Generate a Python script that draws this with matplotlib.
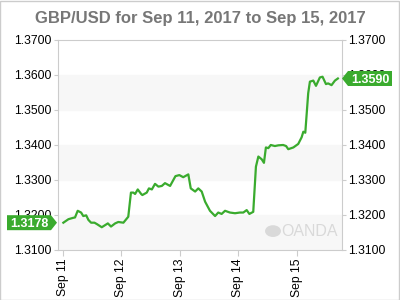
import matplotlib
matplotlib.use("Agg")
import matplotlib.pyplot as plt
from matplotlib.patches import Rectangle, Polygon, Circle
from matplotlib.transforms import IdentityTransform

plt.rcParams['font.family'] = ['Liberation Sans', 'DejaVu Sans']

# hours since Sep 11 2017 00:00 and GBP/USD price
hours = [0.1, 2.2, 4.2, 4.9, 6.0, 7.4, 8.3, 9.5, 10.4, 11.5, 12.9, 13.9, 15.9,
         18.4, 19.7, 21.4, 22.7, 24.8, 26.8, 27.9, 28.9, 29.6, 30.7, 32.1, 32.6,
         34.4, 35.3, 36.5, 37.8, 39.2, 40.6, 41.9, 44.0, 46.2, 47.8, 49.4, 51.5,
         52.5, 54.3, 55.6, 57.0, 58.4, 60.4, 62.5, 63.8, 65.2, 66.6, 68.6, 70.7,
         72.7, 74.1, 75.5, 76.6, 78.2, 79.3, 80.3, 81.7, 82.6, 83.4, 84.4, 85.4,
         87.1, 88.5, 90.5, 91.7, 92.6, 94.7, 96.7, 98.1, 98.8, 99.6, 100.8,
         101.5, 102.9, 104.0, 105.6, 106.7, 108.1, 109.0, 110.4, 111.8, 113.0]
prices = [1.3178, 1.3188, 1.3192, 1.3193, 1.3212, 1.3207, 1.3197, 1.3199,
          1.3186, 1.3178, 1.3178, 1.3174, 1.3165, 1.3176, 1.3167, 1.3176,
          1.3180, 1.3178, 1.3195, 1.3264, 1.3264, 1.3260, 1.3273, 1.3260,
          1.3257, 1.3264, 1.3276, 1.3273, 1.3289, 1.3281, 1.3283, 1.3291,
          1.3283, 1.3311, 1.3314, 1.3308, 1.3316, 1.3276, 1.3267, 1.3276,
          1.3267, 1.3238, 1.3212, 1.3197, 1.3207, 1.3203, 1.3212, 1.3207,
          1.3205, 1.3207, 1.3207, 1.3214, 1.3203, 1.3209, 1.3338, 1.3367,
          1.3359, 1.3349, 1.3393, 1.3391, 1.3400, 1.3397, 1.3399, 1.3400,
          1.3397, 1.3388, 1.3393, 1.3403, 1.3422, 1.3438, 1.3435, 1.3548,
          1.3581, 1.3584, 1.3569, 1.3593, 1.3595, 1.3574, 1.3576, 1.3571,
          1.3584, 1.3590]
day_labels = ['Sep 11', 'Sep 12', 'Sep 13', 'Sep 14', 'Sep 15']
y_ticks = [1.31, 1.32, 1.33, 1.34, 1.35, 1.36, 1.37]
open_price = 1.3178
last_price = 1.3590

green = '#3aab2e'
grid_gray = '#cccccc'

fig = plt.figure(figsize=(4, 3), dpi=100)
ax = fig.add_axes([0.145, 0.1667, 0.71, 0.70])

# alternating bands
for i in range(0, len(y_ticks) - 1, 2):
    ax.axhspan(y_ticks[i], y_ticks[i + 1], color='#f7f7f7', zorder=0)

ax.plot(hours, prices, color=green, lw=1.6, zorder=3)

ax.set_xlim(-2.1, 114.7)
ax.set_ylim(1.31, 1.37)
ax.set_yticks(y_ticks)
ax.set_yticklabels([f'{v:.4f}' for v in y_ticks])
ax.set_xticks([24 * i for i in range(len(day_labels))])
ax.set_xticklabels(day_labels, rotation=90)

ax.tick_params(axis='y', left=True, right=True, labelleft=True, labelright=True,
               length=3, color=grid_gray, labelsize=8.7, pad=1.5)
ax.tick_params(axis='x', length=4, color=grid_gray, labelsize=8.7, pad=2)
for s in ax.spines.values():
    s.set_color(grid_gray)

fig.suptitle('GBP/USD for Sep 11, 2017 to Sep 15, 2017', y=0.963,
             fontsize=12, fontweight='bold', color='#777777')


# price flags (drawn in pixel space, anchored on the data value)
def flag(price, side):
    x0 = ax.transAxes.transform((0 if side == 'left' else 1, 0))[0]
    y0 = ax.transData.transform((0, price))[1]
    h, w, tip = 7.5, 44, 6
    if side == 'right':
        pts = [(x0, y0), (x0 + tip, y0 + h), (x0 + tip + w, y0 + h),
               (x0 + tip + w, y0 - h), (x0 + tip, y0 - h)]
        tx = x0 + tip + w / 2
    else:
        pts = [(x0 - 1, y0), (x0 - 1 - tip, y0 + h), (x0 - 1 - tip - w, y0 + h),
               (x0 - 1 - tip - w, y0 - h), (x0 - 1 - tip, y0 - h)]
        tx = x0 - 1 - tip - w / 2
    fig.add_artist(Polygon(pts, closed=True, fc=green, ec='none',
                           transform=IdentityTransform(), zorder=5))
    fig.text(tx, y0, f'{price:.4f}', transform=IdentityTransform(),
             ha='center', va='center_baseline', fontsize=9, fontweight='bold',
             color='white', zorder=6)


flag(last_price, 'right')
flag(open_price, 'left')

# watermark
ax.text(0.985, 0.09, 'OANDA', transform=ax.transAxes, ha='right', va='center',
        fontsize=11.5, color='#d9d9d9')
ax.add_patch(Circle((0.757, 0.09), 0.028, transform=ax.transAxes,
                    fc='#d9d9d9', ec='none', zorder=2))

fig.add_artist(Rectangle((0.001, 0.001), 0.997, 0.997, transform=fig.transFigure,
                         fill=False, ec=grid_gray, lw=1))

fig.savefig('out.png', dpi=100)
